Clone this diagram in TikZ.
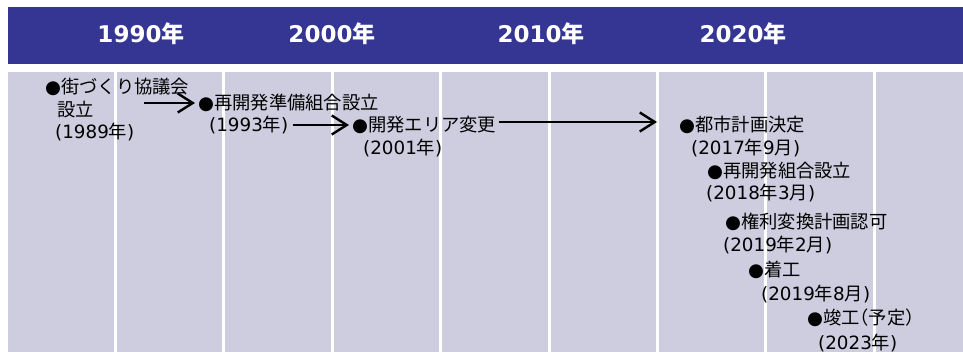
\documentclass[tikz,border=0pt]{standalone}
\usepackage{fontspec}
\newfontfamily\jp{Noto Sans CJK JP}
\newfontfamily\jph[RawFeature=+halt]{Noto Sans CJK JP}
\newfontfamily\dv{DejaVu Sans}
\usetikzlibrary{arrows.meta}
\definecolor{hdr}{RGB}{53,53,148}
\definecolor{colgray}{RGB}{205,205,223}
\newcommand{\lt}[1]{{\dv #1}}
\newcommand{\bul}{{\dv ●}}
\begin{document}
\begin{tikzpicture}[x=1pt,y=-1pt,
  ev/.style={anchor=base west, inner sep=0pt, font=\jp\fontsize{18.3}{22}\selectfont},
  hd/.style={anchor=base, inner sep=0pt, text=white, font=\jp\bfseries\fontsize{23}{26}\selectfont},
  arr/.style={-{Straight Barb[length=15pt,width=19pt]}, line width=2.4pt}]
\useasboundingbox (0,0) rectangle (963,352);
\fill[hdr] (8,7) rectangle (963,64);
\fill[colgray] (8,72) rectangle (963,352);
\foreach \i in {0,...,7} \fill[white] ({114+108.4*\i},72) rectangle ({117+108.4*\i},352);
% header
\node[hd] (h1) at (141,43) {\lt{1990}年};
\node[hd] (h2) at (332,43) {\lt{2000}年};
\node[hd] (h3) at (541,43) {\lt{2010}年};
\node[hd] (h4) at (743,43) {\lt{2020}年};
% events
\node[ev] (e1a) at (45,94) {\bul 街づくり協議会};
\node[ev] (e1b) at (57,117) {設立};
\node[ev] (e1c) at (55,139) {\lt{(1989}年\lt{)}};
\node[ev] (e2a) at (198,110) {\bul 再開発準備組合設立};
\node[ev] (e2b) at (209,132) {\lt{(1993}年\lt{)}};
\node[ev] (e3a) at (352,132) {\bul 開発エリア変更};
\node[ev] (e3b) at (363,155) {\lt{(2001}年\lt{)}};
\node[ev] (e4a) at (679,132) {\bul 都市計画決定};
\node[ev] (e4b) at (691,155) {\lt{(2017}年\lt{9}月\lt{)}};
\node[ev] (e5a) at (707,178) {\bul 再開発組合設立};
\node[ev] (e5b) at (706,200) {\lt{(2018}年\lt{3}月\lt{)}};
\node[ev] (e6a) at (725,229) {\bul 権利変換計画認可};
\node[ev] (e6b) at (723,252) {\lt{(2019}年\lt{2}月\lt{)}};
\node[ev] (e7a) at (748,277) {\bul 着工};
\node[ev] (e7b) at (761,301) {\lt{(2019}年\lt{8}月\lt{)}};
\node[ev] (e8a) at (807,325) {\bul 竣工{\jph（}予定{\jph）}};
\node[ev] (e8b) at (818,349) {\lt{(2023}年\lt{)}};
% arrows
\coordinate (a1s) at (144,103);
\coordinate (r2) at (0,125);
\coordinate (r3) at (0,122);
\draw[arr, shorten >=3pt] (a1s) -- (a1s -| e2a.west);
\draw[arr, shorten <=4pt, shorten >=3pt] (e2b.east |- r2) -- (e3a.west |- r2);
\draw[arr, shorten <=3pt, shorten >=22pt] (e3a.east |- r3) -- (e4a.west |- r3);
\end{tikzpicture}
\end{document}
